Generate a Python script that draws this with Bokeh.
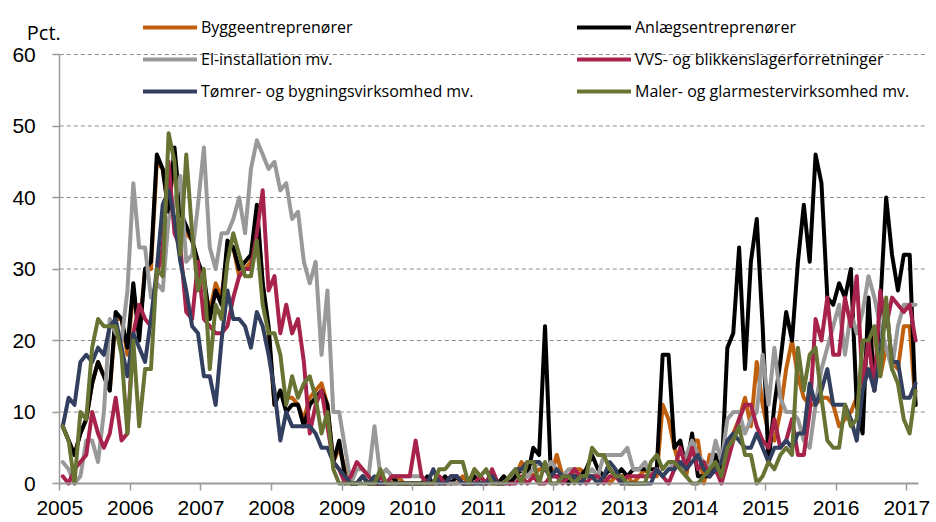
from bokeh.plotting import figure
from bokeh.models import Range1d, Legend, LegendItem, Label, FixedTicker
from bokeh.embed import file_html
from bokeh.resources import INLINE

# ---------------- data (monthly, Jan 2005 - Feb 2017), pct. ----------------
start_year = 2005
x_ticks = list(range(2005, 2018))
y_ticks = [0, 10, 20, 30, 40, 50, 60]

bygge = [
    8, 6, 4, 7, 9, 14, 17, 15, 13, 23, 23, 18,
    27, 21, 30, 30, 45, 44, 38, 46, 38, 35, 34, 31,
    28, 24, 28, 26, 33, 33, 29, 30, 31, 38, 28, 21,
    11, 13, 12, 12, 11, 9, 12, 13, 14, 11, 3, 5,
    2, 0, 0, 1, 0, 0, 0, 0, 0, 1, 0, 0,
    0, 0, 0, 0, 1, 0, 0, 0, 1, 0, 2, 1,
    0, 0, 0, 1, 0, 1, 3, 2, 1, 2, 2, 1,
    4, 1, 0, 2, 2, 1, 1, 0, 1, 0, 1, 1,
    1, 0, 1, 2, 1, 1, 11, 9, 5, 2, 1, 6,
    6, 0, 4, 2, 3, 5, 7, 9, 12, 8, 17, 11,
    7, 6, 10, 16, 20, 15, 12, 11, 11, 12, 12, 11,
    8, 9, 10, 12, 15, 20, 21, 15, 19, 17, 16, 22,
    22, 11,
]
anlaeg = [
    8, 6, 4, 7, 9, 14, 17, 15, 13, 24, 23, 19,
    28, 20, 30, 31, 46, 44, 38, 47, 38, 36, 34, 31,
    29, 23, 27, 25, 34, 33, 30, 31, 32, 39, 28, 22,
    11, 13, 10, 11, 11, 8, 11, 12, 13, 11, 3, 6,
    1, 0, 0, 1, 0, 0, 0, 0, 1, 0, 0, 0,
    0, 0, 1, 0, 0, 1, 0, 1, 0, 0, 1, 0,
    0, 1, 0, 1, 0, 1, 2, 1, 5, 4, 22, 1,
    1, 1, 0, 1, 1, 2, 4, 2, 1, 2, 1, 2,
    1, 2, 2, 2, 2, 2, 18, 18, 5, 6, 2, 7,
    1, 1, 1, 4, 1, 19, 21, 33, 16, 31, 37, 22,
    3, 11, 17, 24, 20, 31, 39, 31, 46, 42, 26, 25,
    28, 26, 30, 11, 7, 26, 13, 25, 40, 32, 27, 32,
    32, 11,
]
el = [
    3, 2, 0, 1, 6, 6, 3, 10, 23, 21, 20, 27,
    42, 33, 33, 26, 28, 27, 37, 39, 43, 31, 32, 39,
    47, 33, 30, 35, 35, 37, 40, 35, 44, 48, 46, 44,
    45, 41, 42, 37, 38, 31, 28, 31, 18, 27, 10, 10,
    5, 0, 2, 2, 1, 8, 1, 2, 1, 1, 1, 1,
    1, 1, 0, 0, 0, 0, 0, 0, 0, 0, 0, 0,
    0, 0, 0, 0, 1, 2, 2, 1, 2, 3, 2, 3,
    2, 1, 2, 2, 1, 1, 2, 1, 4, 4, 4, 4,
    5, 2, 2, 3, 1, 2, 1, 2, 3, 2, 4, 6,
    4, 3, 2, 6, 3, 9, 10, 10, 7, 9, 10, 18,
    11, 19, 12, 10, 10, 9, 6, 5, 11, 16, 19, 22,
    25, 18, 24, 21, 24, 29, 26, 22, 19, 16, 22, 25,
    25, 25,
]
vvs = [
    1, 0, 2, 3, 4, 10, 7, 5, 7, 12, 6, 7,
    21, 25, 23, 22, 29, 33, 45, 35, 33, 24, 23, 31,
    23, 22, 21, 21, 22, 26, 29, 30, 30, 35, 41, 27,
    29, 21, 25, 21, 23, 17, 7, 11, 13, 8, 3, 2,
    0, 1, 3, 2, 1, 0, 1, 0, 1, 1, 1, 1,
    6, 1, 0, 0, 1, 0, 1, 1, 0, 0, 0, 1,
    0, 2, 0, 0, 0, 0, 1, 0, 1, 0, 0, 1,
    1, 0, 1, 2, 1, 0, 1, 1, 0, 1, 1, 0,
    1, 1, 1, 1, 1, 2, 1, 0, 2, 5, 2, 5,
    2, 3, 1, 2, 0, 3, 6, 9, 11, 11, 8, 6,
    5, 9, 5, 6, 9, 4, 4, 10, 23, 20, 26, 18,
    18, 26, 22, 29, 14, 20, 13, 27, 22, 26, 25, 24,
    25, 20,
]
toemrer = [
    8, 12, 11, 17, 18, 17, 19, 18, 22, 23, 19, 15,
    21, 19, 17, 23, 30, 39, 41, 37, 31, 27, 22, 21,
    15, 15, 11, 20, 27, 23, 23, 22, 19, 24, 22, 18,
    13, 6, 10, 8, 8, 8, 8, 7, 5, 5, 3, 2,
    1, 0, 0, 1, 0, 1, 0, 0, 0, 0, 0, 0,
    0, 0, 0, 2, 0, 0, 1, 1, 0, 0, 0, 0,
    0, 1, 0, 0, 1, 2, 2, 3, 3, 3, 2, 1,
    2, 1, 1, 1, 0, 1, 1, 0, 1, 3, 2, 0,
    0, 0, 0, 0, 0, 2, 1, 2, 2, 3, 2, 3,
    4, 2, 1, 2, 3, 6, 7, 6, 5, 5, 7, 5,
    3, 5, 5, 6, 5, 7, 7, 14, 11, 13, 16, 11,
    11, 11, 9, 6, 13, 16, 13, 18, 25, 17, 17, 12,
    12, 14,
]
maler = [
    8, 6, 0, 10, 9, 19, 23, 22, 22, 22, 18, 7,
    20, 8, 16, 16, 30, 29, 49, 45, 32, 46, 35, 27,
    30, 16, 25, 23, 31, 35, 32, 29, 29, 34, 25, 21,
    21, 18, 11, 15, 12, 14, 15, 12, 7, 10, 2, 0,
    0, 0, 0, 0, 0, 0, 2, 0, 0, 0, 0, 0,
    0, 0, 0, 0, 2, 2, 3, 3, 3, 0, 2, 1,
    2, 0, 0, 0, 1, 2, 0, 3, 3, 0, 3, 0,
    0, 1, 1, 0, 1, 1, 5, 4, 4, 2, 1, 1,
    0, 0, 0, 0, 3, 4, 2, 3, 3, 2, 1, 0,
    0, 1, 2, 3, 1, 5, 6, 8, 4, 4, 0, 1,
    3, 2, 4, 5, 4, 19, 13, 18, 19, 12, 6, 5,
    5, 11, 8, 9, 20, 20, 22, 15, 26, 16, 14, 9,
    7, 13,
]

names = [
    "Byggeentreprenører",
    "Anlægsentreprenører",
    "El-installation mv.",
    "VVS- og blikkenslagerforretninger",
    "Tømrer- og bygningsvirksomhed mv.",
    "Maler- og glarmestervirksomhed mv.",
]
series = [bygge, anlaeg, el, vvs, toemrer, maler]
colors = ["#C0600F", "#000000", "#999999", "#A8234B", "#323F5E", "#677433"]

n = len(bygge)
x = [start_year + (i + 0.5) / 12 for i in range(n)]
x_end = start_year + n / 12

# ---------------- layout (pixels) ----------------
W, H = 934, 522
AX_LEFT_PX, AX_RIGHT_PX = 59.3, 918.0   # page x where the x-axis starts / ends
Y0_PX, Y60_PX = 483.0, 54.0             # page y of 0 and 60
GRID_END_PX = 927.0

px_per_year = (AX_RIGHT_PX - AX_LEFT_PX) / (x_end - start_year)
x_lo = start_year - AX_LEFT_PX / px_per_year
x_hi = start_year + (W - AX_LEFT_PX) / px_per_year
px_per_unit = (Y0_PX - Y60_PX) / y_ticks[-1]
y_hi = y_ticks[-1] + Y60_PX / px_per_unit
y_lo = -(H - Y0_PX) / px_per_unit
grid_end = start_year + (GRID_END_PX - AX_LEFT_PX) / px_per_year

p = figure(width=W, height=H, output_backend="svg", toolbar_location=None,
           x_range=Range1d(x_lo, x_hi), y_range=Range1d(y_lo, y_hi),
           min_border_left=0, min_border_right=0, min_border_top=0,
           min_border_bottom=0)
p.outline_line_color = None
p.background_fill_color = "white"
p.border_fill_color = "white"
p.xgrid.grid_line_color = None
p.ygrid.grid_line_color = None

# dashed horizontal gridlines at the y ticks
p.segment(x0=[start_year] * (len(y_ticks) - 1), x1=[grid_end] * (len(y_ticks) - 1),
          y0=y_ticks[1:], y1=y_ticks[1:], line_color="#8C8C8C", line_width=1,
          line_dash="4 3")

renderers = []
for ys, c in zip(series, colors):
    r = p.line(x, ys, line_color=c, line_width=4, line_join="round", line_cap="round")
    renderers.append(r)

# axes (drawn at fixed positions inside the frame)
xa = p.xaxis[0]
ya = p.yaxis[0]
xa.ticker = FixedTicker(ticks=x_ticks)
xa.major_label_overrides = {t: str(t) for t in x_ticks}
xa.bounds = (start_year, x_end)
xa.fixed_location = 0
ya.ticker = FixedTicker(ticks=y_ticks)
ya.bounds = (0, y_ticks[-1])
ya.fixed_location = start_year
for ax in (xa, ya):
    ax.axis_line_color = "#9A9A9A"
    ax.major_tick_line_color = "#9A9A9A"
    ax.major_tick_out = 7
    ax.major_tick_in = 0
    ax.minor_tick_out = 0
    ax.minor_tick_in = 0
    ax.major_label_text_font = "Liberation Sans"
    ax.major_label_text_font_size = "21px"
    ax.major_label_text_color = "#000000"
xa.axis_line_width = 2
xa.major_tick_line_width = 1.5
ya.axis_line_width = 1.5
ya.major_tick_line_width = 1.5
xa.major_label_standoff = 10
ya.major_label_standoff = 17

# legends (two columns)
common = dict(border_line_color=None, background_fill_alpha=0, padding=0, margin=0,
              spacing=10, glyph_width=54, glyph_height=20, label_height=20,
              label_standoff=4, label_text_font="Open Sans", label_text_font_size="16px",
              label_text_color="#000000")
leg_bottom = H - 102
leg1 = Legend(items=[LegendItem(label=names[i], renderers=[renderers[i]]) for i in (0, 2, 4)],
              location=(143, leg_bottom), **common)
leg2 = Legend(items=[LegendItem(label=names[i], renderers=[renderers[i]]) for i in (1, 3, 5)],
              location=(577, leg_bottom), **common)
p.add_layout(leg1, "center")
p.add_layout(leg2, "center")

pct = Label(x=start_year, y=y_ticks[-1], x_units="data", y_units="data",
            x_offset=-33, y_offset=22, text="Pct.", text_font="Open Sans",
            text_font_size="20px", text_color="#000000",
            text_baseline="alphabetic", text_align="left")
p.add_layout(pct)

open("out.html", "w").write(file_html(p, INLINE))
